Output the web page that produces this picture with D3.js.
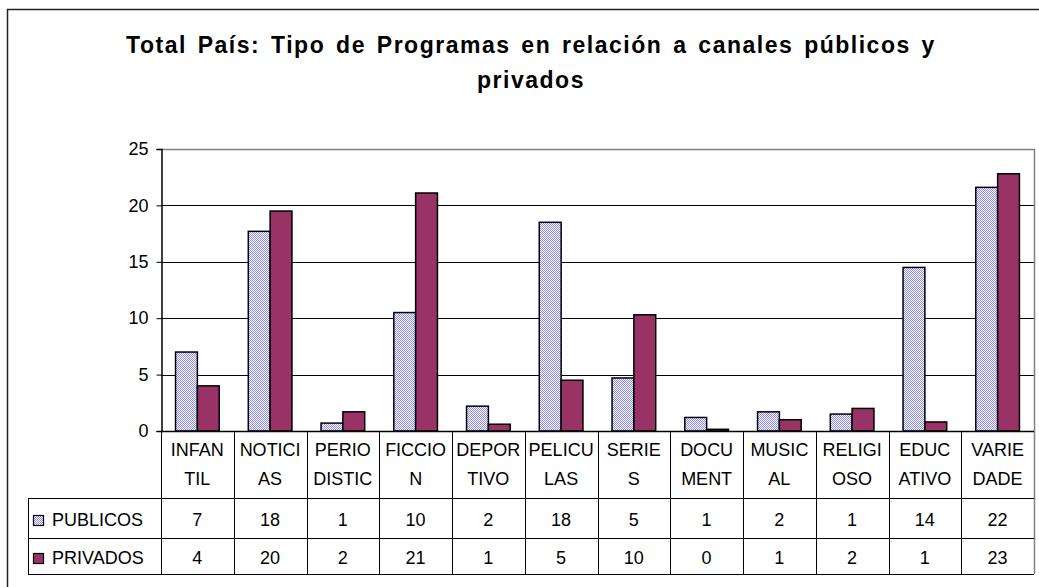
<!DOCTYPE html>
<html>
<head>
<meta charset="utf-8">
<script src="https://cdn.jsdelivr.net/npm/d3@7"></script>
<style>
  html, body { margin: 0; padding: 0; background: #fff; }
  svg { display: block; font-family: Arial, "Liberation Sans", sans-serif; }
</style>
</head>
<body>
<div id="chart"></div>
<script>
// categories split in two lines like the data table header
let categories = ["INFANTIL", "NOTICIAS", "PERIODISTIC", "FICCION", "DEPORTIVO", "PELICULAS",
                  "SERIES", "DOCUMENT", "MUSICAL", "RELIGIOSO", "EDUCATIVO", "VARIEDADE"];
let categoryLines = [["INFAN", "TIL"], ["NOTICI", "AS"], ["PERIO", "DISTIC"], ["FICCIO", "N"],
                     ["DEPOR", "TIVO"], ["PELICU", "LAS"], ["SERIE", "S"], ["DOCU", "MENT"],
                     ["MUSIC", "AL"], ["RELIGI", "OSO"], ["EDUC", "ATIVO"], ["VARIE", "DADE"]];
let seriesNames = ["PUBLICOS", "PRIVADOS"];
let publicos = [7.0, 17.7, 0.7, 10.5, 2.2, 18.5, 4.7, 1.2, 1.7, 1.5, 14.5, 21.6];
let privados = [4.0, 19.5, 1.7, 21.1, 0.6, 4.5, 10.3, 0.15, 1.0, 2.0, 0.8, 22.8];
let publicosLabels = ["7", "18", "1", "10", "2", "18", "5", "1", "2", "1", "14", "22"];
let privadosLabels = ["4", "20", "2", "21", "1", "5", "10", "0", "1", "2", "1", "23"];
let yTicks = [0, 5, 10, 15, 20, 25];
let titleLines = ["Total País: Tipo de Programas en relación a canales públicos y", "privados"];

let width = 1039, height = 587;
let plot = {left: 161, right: 1034, top: 149, bottom: 431};
let table = {left: 28, row1: 498, row2: 538, bottom: 574};

let svg = d3.select("#chart").append("svg")
    .attr("width", width)
    .attr("height", height);

// checker pattern for the PUBLICOS bars
let defs = svg.append("defs");
let pat = defs.append("pattern")
    .attr("id", "checker")
    .attr("patternUnits", "userSpaceOnUse")
    .attr("width", 2)
    .attr("height", 2);
pat.append("rect").attr("width", 2).attr("height", 2).style("fill", "#ffffff");
pat.append("rect").attr("width", 1).attr("height", 1).style("fill", "#8c8cff");
pat.append("rect").attr("x", 1).attr("y", 1).attr("width", 1).attr("height", 1).style("fill", "#8c8cff");

let fills = ["url(#checker)", "#993366"];

// outer chart border
svg.append("rect")
    .attr("x", 7.5)
    .attr("y", 9.5)
    .attr("width", width + 20)
    .attr("height", height + 20)
    .style("fill", "none")
    .style("stroke", "#222")
    .style("stroke-width", 1.5);

// title
svg.selectAll(".title")
    .data(titleLines)
    .enter()
    .append("text")
    .attr("class", "title")
    .attr("x", 531)
    .attr("y", function (d, i) { return 53 + i * 35 })
    .attr("text-anchor", "middle")
    .style("font-size", "23px")
    .style("font-weight", "bold")
    .style("letter-spacing", "1.5px")
    .style("word-spacing", "3px")
    .text(function (d) { return d });

let x = d3.scaleBand()
    .domain(categories)
    .range([plot.left, plot.right]);

let xs = d3.scaleBand()
    .domain(seriesNames)
    .range([x.bandwidth() * 0.2, x.bandwidth() * 0.8]);

let y = d3.scaleLinear()
    .domain([0, 25])
    .range([plot.bottom, plot.top]);

// gridlines
svg.selectAll(".grid")
    .data(yTicks.filter(function (d) { return d > 0 && d < 25 }))
    .enter()
    .append("line")
    .attr("x1", plot.left)
    .attr("x2", plot.right)
    .attr("y1", function (d) { return Math.round(y(d)) + 0.5 })
    .attr("y2", function (d) { return Math.round(y(d)) + 0.5 })
    .style("stroke", "#000")
    .style("stroke-width", 1);

// plot border top / right (grey)
svg.append("path")
    .attr("d", "M" + plot.left + "," + (plot.top + 0.5) + "H" + (plot.right + 0.5) + "V" + table.bottom)
    .style("fill", "none")
    .style("stroke", "#808080")
    .style("stroke-width", 1.5);

// y axis
let yAxis = d3.axisLeft(y)
    .tickValues(yTicks)
    .tickSize(5)
    .tickPadding(8);
let gy = svg.append("g")
    .attr("transform", "translate(" + (plot.left + 0.5) + ",0)")
    .call(yAxis);
gy.select(".domain").style("stroke", "#000").style("stroke-width", 1.5);
gy.selectAll(".tick line").style("stroke", "#000");
gy.selectAll(".tick text")
    .style("font-size", "18px")
    .style("font-family", "Arial, 'Liberation Sans', sans-serif")
    .style("fill", "#000");

// bars
let seriesValues = [publicos, privados];
for (let s = 0; s < seriesNames.length; s++) {
    svg.selectAll()
        .data(seriesValues[s])
        .enter()
        .append("rect")
        .attr("x", function (d, i) { return x(categories[i]) + xs(seriesNames[s]) })
        .attr("y", function (d) { return y(d) })
        .attr("width", xs.bandwidth())
        .attr("height", function (d) { return y(0) - y(d) })
        .style("fill", fills[s])
        .style("stroke", "#000")
        .style("stroke-width", 1.5);
}

// x axis line
svg.append("line")
    .attr("x1", plot.left)
    .attr("x2", plot.right)
    .attr("y1", plot.bottom + 0.5)
    .attr("y2", plot.bottom + 0.5)
    .style("stroke", "#000")
    .style("stroke-width", 1.5);

// data table: vertical lines at category boundaries
let bounds = categories.map(function (c) { return x(c) });
svg.selectAll(".vline")
    .data(bounds)
    .enter()
    .append("line")
    .attr("x1", function (d) { return Math.round(d) + 0.5 })
    .attr("x2", function (d) { return Math.round(d) + 0.5 })
    .attr("y1", plot.bottom)
    .attr("y2", table.bottom)
    .style("stroke", "#000")
    .style("stroke-width", 1);

// horizontal table lines
svg.selectAll(".hline")
    .data([table.row1, table.row2, table.bottom])
    .enter()
    .append("line")
    .attr("x1", table.left)
    .attr("x2", plot.right)
    .attr("y1", function (d) { return d + 0.5 })
    .attr("y2", function (d) { return d + 0.5 })
    .style("stroke", "#000")
    .style("stroke-width", 1);

svg.append("line")
    .attr("x1", table.left + 0.5)
    .attr("x2", table.left + 0.5)
    .attr("y1", table.row1)
    .attr("y2", table.bottom)
    .style("stroke", "#000")
    .style("stroke-width", 1);

// category labels (two lines)
categoryLines.forEach(function (lines, i) {
    svg.selectAll()
        .data(lines)
        .enter()
        .append("text")
        .attr("x", x(categories[i]) + x.bandwidth() / 2)
        .attr("y", function (d, j) { return 456 + j * 29 })
        .attr("text-anchor", "middle")
        .style("font-size", "18px")
        .text(function (d) { return d });
});

// value rows with legend keys
let rowLabels = [publicosLabels, privadosLabels];
let rowBase = [526, 564];
for (let s = 0; s < seriesNames.length; s++) {
    let key = svg.append("g");
    key.append("rect")
        .attr("x", 33.5)
        .attr("y", rowBase[s] - 10.5)
        .attr("width", 10)
        .attr("height", 10)
        .style("fill", fills[s]);
    key.append("rect")
        .attr("x", 33.5)
        .attr("y", rowBase[s] - 10.5)
        .attr("width", 10)
        .attr("height", 10)
        .style("fill", "none")
        .style("stroke", "#000")
        .style("stroke-width", 1.2);

    svg.append("text")
        .attr("x", 52)
        .attr("y", rowBase[s])
        .style("font-size", "18px")
        .text(seriesNames[s]);

    svg.selectAll()
        .data(rowLabels[s])
        .enter()
        .append("text")
        .attr("x", function (d, i) { return x(categories[i]) + x.bandwidth() / 2 })
        .attr("y", rowBase[s])
        .attr("text-anchor", "middle")
        .style("font-size", "18px")
        .text(function (d) { return d });
}
</script>
</body>
</html>
